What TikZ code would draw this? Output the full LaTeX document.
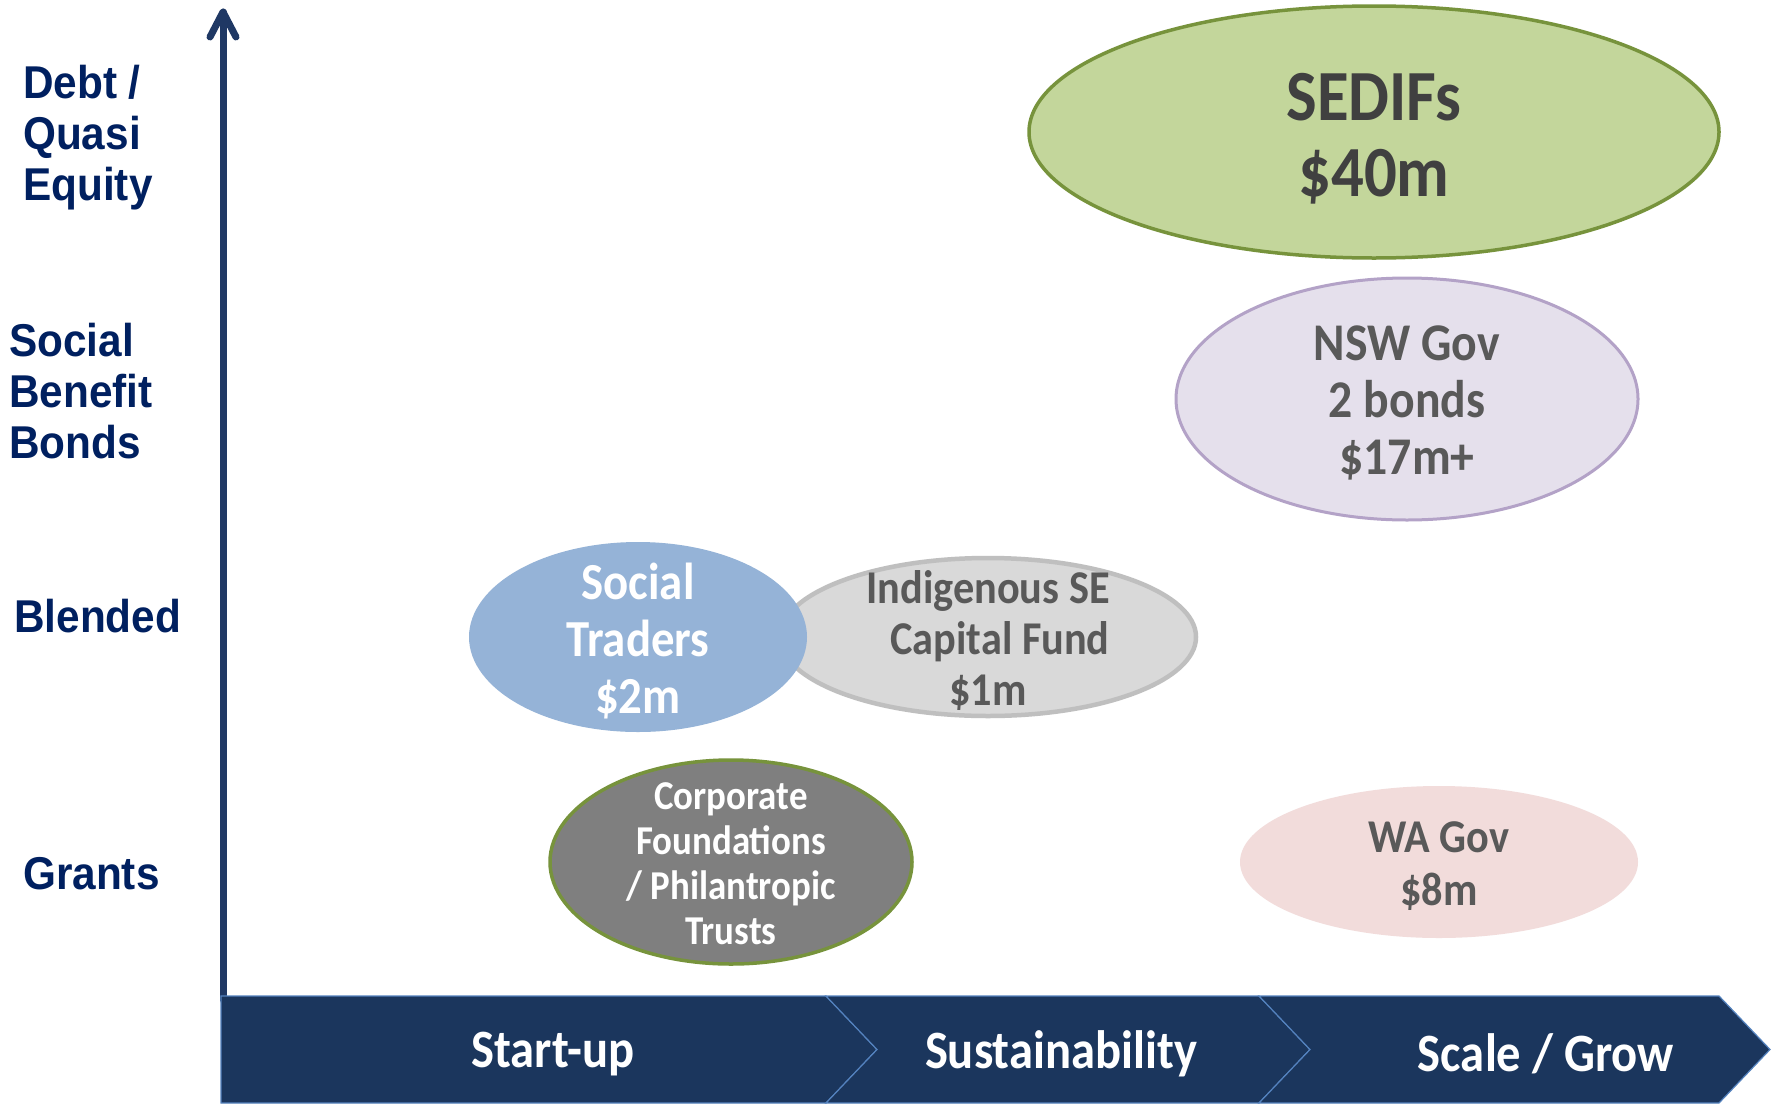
\documentclass[tikz,border=0pt]{standalone}
\usepackage{fontspec}
\usetikzlibrary{shapes.geometric}
\setmainfont{Carlito}
\newfontfamily\calb[FakeStretch=0.9]{Carlito}
\newfontfamily\arib[FakeStretch=0.92]{Liberation Sans}
\definecolor{band}{RGB}{27,54,93}
\definecolor{axiscol}{RGB}{31,56,100}
\definecolor{labcol}{RGB}{0,32,96}
\definecolor{bandline}{RGB}{84,130,190}
\definecolor{sedfill}{RGB}{195,214,155}
\definecolor{greenline}{RGB}{119,147,60}
\definecolor{nswfill}{RGB}{229,224,236}
\definecolor{nswline}{RGB}{179,162,199}
\definecolor{stfill}{RGB}{149,179,215}
\definecolor{indfill}{RGB}{217,217,217}
\definecolor{indline}{RGB}{191,191,191}
\definecolor{corpfill}{RGB}{127,127,127}
\definecolor{wafill}{RGB}{242,220,219}
\definecolor{dgray}{RGB}{64,64,64}
\definecolor{mgray}{RGB}{89,89,89}
\begin{document}
\begin{tikzpicture}[x=1pt,y=-1pt,
  oval/.style={ellipse, inner sep=0pt},
  otext/.style={inner sep=0pt, align=center, yshift=-4pt},
  axlab/.style={inner sep=0pt, anchor=west, align=left, text=labcol,
    font=\arib\bfseries\fontsize{46}{51}\selectfont},
  chev/.style={fill=band, draw=bandline, line width=1.2pt, line join=miter},
  chevtext/.style={inner sep=0pt, text=white, yshift=-3pt, font=\calb\bfseries\fontsize{54}{60}\selectfont}]
\useasboundingbox (0,0) rectangle (1779,1103);
\fill[white] (0,0) rectangle (1779,1103);

% vertical axis
\coordinate (axbot) at (223,1000);
\coordinate (axtop) at (223,12);
\draw[axiscol, line width=7pt, line cap=round] (axbot) -- (axtop);
\draw[axiscol, line width=7pt, line cap=round, line join=round]
  (210,37) -- (axtop) -- (236,37);

% axis labels
\node[axlab] (ldebt) at (23,138) {Debt /\\Quasi\\Equity};
\node[axlab] (lsbb) at (9,391) {Social\\Benefit\\Bonds};
\node[axlab] (lblend) at (14,616) {Blended};
\node[axlab] (lgrant) at (23,874) {Grants};

% ellipses
\node[oval, fill=sedfill, draw=greenline, line width=3.5pt,
  minimum width=690, minimum height=252] (sedif) at (1374,132) {};
\node[otext, yshift=-3pt, text=dgray, font=\calb\bfseries\fontsize{72}{76}\selectfont]
  (sediftxt) at (sedif.center) {SEDIFs\\\$40m};

\node[oval, fill=nswfill, draw=nswline, line width=3pt,
  minimum width=462, minimum height=242] (nsw) at (1407,399) {};
\node[otext, text=mgray, font=\calb\bfseries\fontsize{53}{57}\selectfont]
  (nswtxt) at (nsw.center) {NSW Gov\\2 bonds\\\$17m+};

\node[oval, fill=indfill, draw=indline, line width=4.5pt,
  minimum width=416, minimum height=158] (ind) at (988,637) {};
\node[otext, text=mgray, font=\calb\bfseries\fontsize{47}{51}\selectfont]
  (indtxt) at (ind.center) {Indigenous SE\\\hspace*{24pt}Capital Fund\\\$1m};

\node[oval, fill=stfill, minimum width=338, minimum height=190] (st) at (638,637) {};
\node[otext, text=white, font=\calb\bfseries\fontsize{52}{57}\selectfont]
  (sttxt) at (st.center) {Social\\Traders\\\$2m};

\node[oval, fill=corpfill, draw=greenline, line width=3.5pt,
  minimum width=362, minimum height=204] (corp) at (731,862) {};
\node[otext, yshift=2pt, text=white, font=\calb\bfseries\fontsize{41}{45}\selectfont]
  (corptxt) at (corp.center) {Corporate\\Foundations\\/ Philantropic\\Trusts};

\node[oval, fill=wafill, minimum width=398, minimum height=152] (wa) at (1439,862) {};
\node[otext, text=mgray, font=\calb\bfseries\fontsize{47}{53}\selectfont]
  (watxt) at (wa.center) {WA Gov\\\$8m};

% chevron band
\draw[chev] (221,996) -- (826,996) -- (877,1049.5) -- (826,1103) -- (221,1103) -- cycle;
\draw[chev] (826,996) -- (1259,996) -- (1310,1049.5) -- (1259,1103) -- (826,1103) -- (877,1049.5) -- cycle;
\draw[chev] (1259,996) -- (1719,996) -- (1770,1049.5) -- (1719,1103) -- (1259,1103) -- (1310,1049.5) -- cycle;
\node[chevtext] (c1) at (553,1051) {Start-up};
\node[chevtext] (c2) at (1061,1051) {Sustainability};
\node[chevtext] (c3) at (1546,1051) {Scale / Grow};
\end{tikzpicture}
\end{document}
